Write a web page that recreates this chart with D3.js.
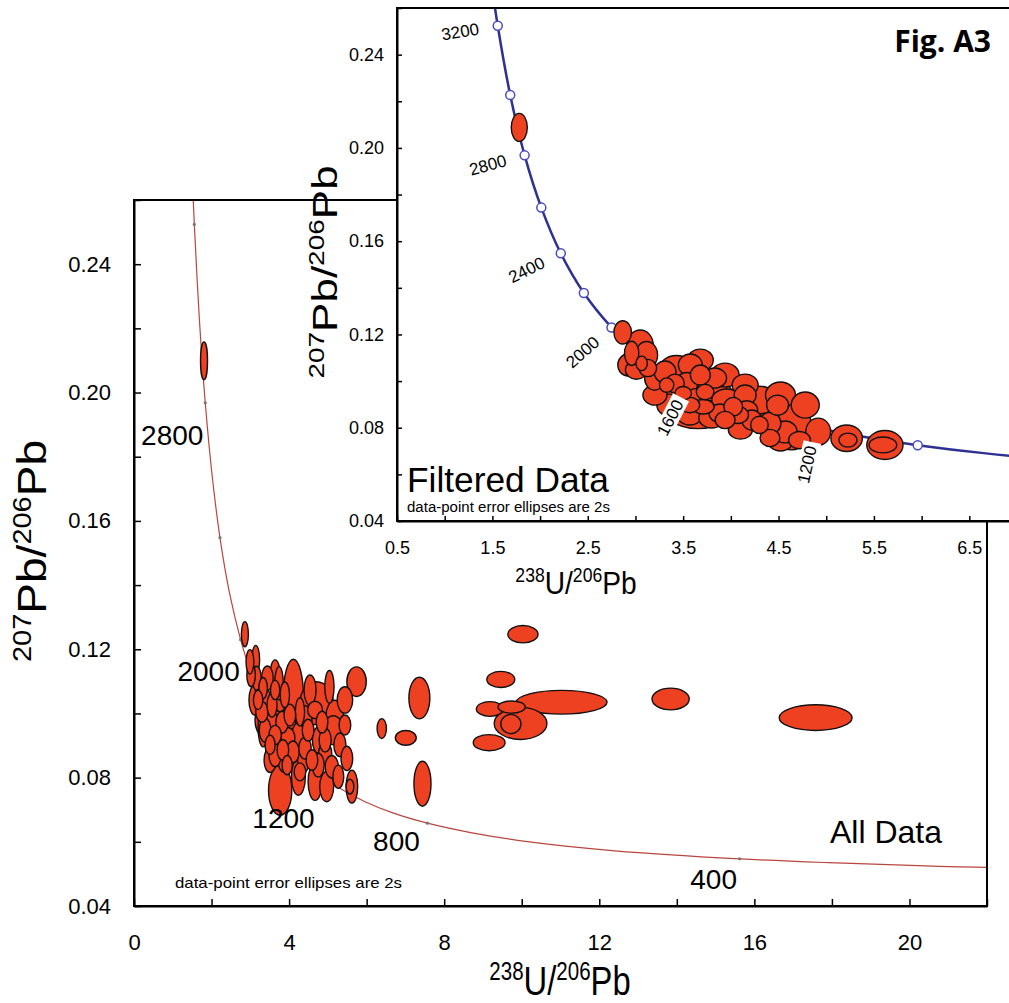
<!DOCTYPE html>
<html>
<head>
<meta charset="utf-8">
<script src="https://cdn.jsdelivr.net/npm/d3@7"></script>
<style>
  body { margin: 0; background: #fff; }
  svg { display: block; font-family: "Liberation Sans", Arial, sans-serif; }
</style>
</head>
<body>
<svg id="chart" width="1009" height="1003"></svg>
<script>
// concordia nodes: age (Ma), 238U/206Pb, 207Pb/206Pb
const concAges = [250, 300, 350, 400, 500, 600, 700, 800, 900, 1000, 1100, 1200, 1300, 1400, 1500,
  1600, 1700, 1800, 1900, 2000, 2200, 2400, 2600, 2800, 3000, 3200, 3300, 3400];
const concX = [25.29, 20.99, 17.92, 15.62, 12.40, 10.25, 8.718, 7.568, 6.674, 5.959, 5.375, 4.888, 4.476, 4.123, 3.817,
  3.550, 3.314, 3.105, 2.917, 2.749, 2.459, 2.217, 2.013, 1.838, 1.687, 1.556, 1.496, 1.440];
const concY = [0.0512, 0.0523, 0.0535, 0.0547, 0.0572, 0.0599, 0.0628, 0.0658, 0.0690, 0.0725, 0.0762, 0.0801, 0.0843, 0.0888, 0.0936,
  0.0987, 0.1042, 0.1100, 0.1163, 0.1230, 0.1378, 0.1548, 0.1744, 0.1968, 0.2227, 0.2524, 0.2690, 0.2867];

const mainAgeMarks = [400, 800, 1200, 1600, 2000, 2400, 2800, 3200];
const mainAgeLabels = [2800, 2000, 1200, 800, 400];
const insetAgeMarks = [1000, 1200, 1400, 1600, 1800, 2000, 2200, 2400, 2600, 2800, 3000, 3200];
const insetAgeLabels = [3200, 2800, 2400, 2000, 1600, 1200];

const mainXTicks = [0, 2, 4, 6, 8, 10, 12, 14, 16, 18, 20, 22];
const mainXLabels = [0, 4, 8, 12, 16, 20];
const mainYTicks = [0.04, 0.06, 0.08, 0.10, 0.12, 0.14, 0.16, 0.18, 0.20, 0.22, 0.24, 0.26];
const mainYLabels = [0.04, 0.08, 0.12, 0.16, 0.20, 0.24];
const insetXTicks = [0.5, 1, 1.5, 2, 2.5, 3, 3.5, 4, 4.5, 5, 5.5, 6, 6.5, 7];
const insetXLabels = [0.5, 1.5, 2.5, 3.5, 4.5, 5.5, 6.5];
const insetYTicks = mainYTicks;
const insetYLabels = mainYLabels;

// ellipses: [238U/206Pb, 207Pb/206Pb, 2s on x, 2s on y]
const allData = [
  [1.806, 0.2099, 0.09, 0.0059], [2.86, 0.1247, 0.09, 0.0039], [2.99, 0.1161, 0.10, 0.0038],
  [3.14, 0.1167, 0.10, 0.0045], [3.02, 0.1120, 0.11, 0.0037], [3.16, 0.1110, 0.12, 0.0037],
  [3.44, 0.1110, 0.15, 0.0038], [3.25, 0.1073, 0.12, 0.0038], [3.20, 0.1042, 0.12, 0.0030],
  [3.33, 0.1079, 0.11, 0.0033], [3.64, 0.1073, 0.12, 0.0030], [3.89, 0.1058, 0.12, 0.0040],
  [3.74, 0.1094, 0.11, 0.0052], [4.11, 0.1052, 0.26, 0.0117], [4.71, 0.1032, 0.43, 0.0067],
  [5.04, 0.1083, 0.12, 0.0051], [5.74, 0.1099, 0.25, 0.0046], [5.18, 0.0990, 0.23, 0.0051],
  [5.14, 0.0948, 0.26, 0.0045], [4.67, 0.1011, 0.19, 0.0027], [5.49, 0.0860, 0.15, 0.0038],
  [5.62, 0.0772, 0.15, 0.0051], [5.57, 0.0772, 0.10, 0.0023], [5.27, 0.0803, 0.14, 0.0036],
  [4.97, 0.0772, 0.18, 0.0047], [4.67, 0.0787, 0.18, 0.0058], [4.24, 0.0803, 0.18, 0.0058],
  [3.77, 0.0761, 0.30, 0.0078], [4.37, 0.0855, 0.15, 0.0040], [4.75, 0.0917, 0.15, 0.0040],
  [4.93, 0.0876, 0.17, 0.0035], [5.10, 0.0834, 0.17, 0.0035], [3.38, 0.1042, 0.16, 0.0034],
  [3.56, 0.1026, 0.13, 0.0037], [3.77, 0.1042, 0.16, 0.0037], [3.30, 0.1005, 0.16, 0.0032],
  [3.51, 0.0980, 0.18, 0.0034], [3.82, 0.0973, 0.16, 0.0034], [4.02, 0.0995, 0.15, 0.0034],
  [4.28, 0.1005, 0.12, 0.0044], [3.64, 0.0933, 0.16, 0.0030], [3.38, 0.0948, 0.15, 0.0037],
  [3.97, 0.0924, 0.18, 0.0032], [4.23, 0.0933, 0.16, 0.0037], [4.49, 0.0948, 0.15, 0.0034],
  [3.84, 0.0886, 0.15, 0.0032], [4.10, 0.0880, 0.16, 0.0034], [4.41, 0.0892, 0.16, 0.0034],
  [3.64, 0.0871, 0.16, 0.0037], [4.59, 0.0855, 0.15, 0.0032], [3.95, 0.0839, 0.13, 0.0030],
  [4.28, 0.0818, 0.15, 0.0028], [3.51, 0.0902, 0.13, 0.0030], [3.33, 0.0958, 0.13, 0.0062],
  [4.85, 0.0973, 0.15, 0.0034], [5.44, 0.0964, 0.15, 0.0031], [3.12, 0.1042, 0.155, 0.0047],
  [3.30, 0.0980, 0.18, 0.0047], [3.64, 0.0995, 0.18, 0.0044], [4.02, 0.0948, 0.18, 0.0044],
  [4.41, 0.0980, 0.18, 0.0044], [3.89, 0.0855, 0.18, 0.0039], [4.28, 0.0902, 0.155, 0.0039],
  [3.51, 0.0855, 0.155, 0.0039], [4.75, 0.0839, 0.155, 0.0037], [4.93, 0.0917, 0.155, 0.0037],
  [5.31, 0.0902, 0.155, 0.0037], [5.44, 0.1042, 0.20, 0.0041], [4.54, 0.1073, 0.155, 0.0047],
  [3.64, 0.1120, 0.13, 0.0047], [7.36, 0.1048, 0.27, 0.0065], [6.39, 0.0953, 0.12, 0.0031],
  [7.01, 0.0924, 0.27, 0.0023], [7.44, 0.0781, 0.22, 0.0070], [9.46, 0.1106, 0.36, 0.0025],
  [10.03, 0.1247, 0.39, 0.0027], [11.03, 0.1035, 1.17, 0.0037], [9.18, 0.1014, 0.35, 0.0023],
  [9.74, 0.1020, 0.35, 0.0019], [9.97, 0.0969, 0.68, 0.0050], [9.72, 0.0967, 0.26, 0.0030],
  [9.16, 0.0909, 0.41, 0.0025], [13.84, 0.1045, 0.48, 0.0034], [17.58, 0.0987, 0.94, 0.0040]
];

const filteredData = [
  [1.782, 0.2088, 0.084, 0.0060], [2.866, 0.1209, 0.092, 0.0050], [2.96, 0.1119, 0.075, 0.0052],
  [3.117, 0.1112, 0.115, 0.0058], [3.01, 0.1048, 0.115, 0.0040], [3.065, 0.1076, 0.06, 0.0031],
  [3.43, 0.1048, 0.185, 0.0062], [3.327, 0.0983, 0.075, 0.0031], [3.414, 0.0990, 0.098, 0.0040],
  [3.537, 0.0990, 0.115, 0.0047], [3.50, 0.0948, 0.087, 0.0029], [3.64, 0.0933, 0.115, 0.0035],
  [3.80, 0.0969, 0.156, 0.0054], [3.71, 0.0890, 0.115, 0.0031], [3.956, 0.0919, 0.156, 0.0047],
  [4.025, 0.0890, 0.098, 0.0040], [3.886, 0.0862, 0.115, 0.0040], [4.166, 0.0876, 0.115, 0.0040],
  [4.34, 0.0876, 0.156, 0.0070], [4.305, 0.0919, 0.17, 0.0059], [4.41, 0.0819, 0.115, 0.0047],
  [4.637, 0.0820, 0.2, 0.0115], [4.916, 0.0783, 0.13, 0.0058], [5.214, 0.0755, 0.165, 0.0057],
  [5.228, 0.0747, 0.095, 0.0030], [5.615, 0.0726, 0.19, 0.0062], [5.594, 0.0726, 0.145, 0.0034],
  [3.655, 0.0910, 0.40, 0.0114], [3.31, 0.1039, 0.115, 0.0047], [3.575, 0.1069, 0.125, 0.0047],
  [3.68, 0.1026, 0.104, 0.0043], [3.20, 0.1013, 0.104, 0.0052], [3.83, 0.1013, 0.125, 0.0043],
  [4.15, 0.0940, 0.115, 0.0043], [4.07, 0.0855, 0.115, 0.0037], [4.22, 0.0833, 0.104, 0.0043],
  [4.49, 0.0897, 0.115, 0.0043], [4.57, 0.0782, 0.125, 0.0047], [4.72, 0.0747, 0.115, 0.0037],
  [4.41, 0.0756, 0.104, 0.0037], [3.73, 0.0953, 0.092, 0.0033], [3.57, 0.0897, 0.104, 0.0033],
  [3.13, 0.1056, 0.092, 0.0037], [4.30, 0.0812, 0.092, 0.0037], [3.94, 0.0833, 0.104, 0.0037],
  [3.204, 0.0940, 0.126, 0.0043], [3.36, 0.0897, 0.136, 0.0047], [3.57, 0.0855, 0.136, 0.0043],
  [3.80, 0.0842, 0.136, 0.0043], [4.10, 0.0790, 0.126, 0.0039], [3.68, 0.1090, 0.136, 0.0047],
  [3.94, 0.1026, 0.147, 0.0051], [4.15, 0.0983, 0.136, 0.0047], [4.52, 0.0940, 0.157, 0.0056],
  [4.78, 0.0897, 0.147, 0.0056], [4.52, 0.0747, 0.136, 0.0047], [3.05, 0.1155, 0.136, 0.0064],
  [2.92, 0.1069, 0.105, 0.0047]
];

const ellipseFill = '#ee4122';
const fmt2 = d3.format('.2f');

const svg = d3.select('#chart');
const conc = concAges.map((a, i) => ({ age: a, x: concX[i], y: concY[i] }));
const byAge = a => conc.find(d => d.age === a);

// scales
const xMain = d3.scaleLinear().domain([0, 22]).range([134, 987]);
const yMain = d3.scaleLinear().domain([0.04, 0.26]).range([906, 200]);
const xIns = d3.scaleLinear().domain([0.5, 7]).range([397, 1017]);
const yIns = d3.scaleLinear().domain([0.04, 0.26]).range([521, 8]);

const defs = svg.append('defs');
defs.append('clipPath').attr('id', 'clipMain').append('rect')
  .attr('x', 134).attr('y', 200).attr('width', 853).attr('height', 706);
defs.append('clipPath').attr('id', 'clipIns').append('rect')
  .attr('x', 397).attr('y', 8).attr('width', 620).attr('height', 513);

function drawEllipses(g, data, x, y) {
  const sorted = data.slice().sort((a, b) => b[2] * b[3] - a[2] * a[3]);
  g.selectAll('ellipse')
    .data(sorted)
    .join('ellipse')
      .attr('cx', d => x(d[0]))
      .attr('cy', d => y(d[1]))
      .attr('rx', d => x(d[0] + d[2]) - x(d[0]))
      .attr('ry', d => y(d[1]) - y(d[1] + d[3]))
      .attr('fill', ellipseFill)
      .attr('stroke', '#111')
      .attr('stroke-width', 1.4);
}

function styleAxis(g, fontSize) {
  g.attr('font-family', '"Liberation Sans", Arial, sans-serif').attr('font-size', fontSize);
  g.select('.domain').attr('stroke-width', 2);
  g.selectAll('.tick line').attr('stroke-width', 1.5);
}

function ratioTitle(text, supA, baseA, supB, baseB, size, supSize) {
  const up = size * 0.38;
  text.append('tspan').attr('font-size', supSize).attr('dy', -up).text(supA);
  text.append('tspan').attr('font-size', size).attr('dy', up).text(baseA);
  text.append('tspan').attr('font-size', supSize).attr('dy', -up).text(supB);
  text.append('tspan').attr('font-size', size).attr('dy', up).text(baseB);
}

// ---------- main plot (all data) ----------
const gMain = svg.append('g');
const mainPlot = gMain.append('g').attr('clip-path', 'url(#clipMain)');

const lineMain = d3.line()
  .x(d => xMain(d.x))
  .y(d => yMain(d.y))
  .curve(d3.curveCatmullRom.alpha(0.5));

mainPlot.append('path')
  .datum(conc)
  .attr('d', lineMain)
  .attr('fill', 'none')
  .attr('stroke', '#b8463f')
  .attr('stroke-width', 1.2);

mainPlot.selectAll('.agemark')
  .data(mainAgeMarks.map(byAge))
  .join('circle')
    .attr('class', 'agemark')
    .attr('cx', d => xMain(d.x))
    .attr('cy', d => yMain(d.y))
    .attr('r', 1.6)
    .attr('fill', '#777');

drawEllipses(mainPlot.append('g'), allData, xMain, yMain);

const mainLabelOffset = { 2800: [-33, 33], 2000: [-32, 32], 1200: [-40, 41], 800: [-31, 18], 400: [-26, 21] };
gMain.selectAll('.agelabel')
  .data(mainAgeLabels.map(byAge))
  .join('text')
    .attr('class', 'agelabel')
    .attr('x', d => xMain(d.x) + mainLabelOffset[d.age][0])
    .attr('y', d => yMain(d.y) + mainLabelOffset[d.age][1])
    .attr('text-anchor', 'middle')
    .attr('dominant-baseline', 'central')
    .attr('font-size', 28)
    .text(d => d.age);

gMain.append('text')
  .attr('x', 886).attr('y', 843)
  .attr('text-anchor', 'middle')
  .attr('font-size', 32)
  .text('All Data');

gMain.append('text')
  .attr('x', 175).attr('y', 888)
  .attr('font-size', 15)
  .attr('textLength', 227)
  .attr('lengthAdjust', 'spacingAndGlyphs')
  .text('data-point error ellipses are 2s');

gMain.append('g')
  .attr('transform', 'translate(134,0)')
  .call(d3.axisLeft(yMain).tickValues(mainYTicks).tickSizeInner(-7).tickSizeOuter(0).tickPadding(23)
    .tickFormat(d => mainYLabels.includes(d) ? fmt2(d) : ''))
  .call(g => styleAxis(g, 22));

gMain.append('g')
  .attr('transform', 'translate(0,906)')
  .call(d3.axisBottom(xMain).tickValues(mainXTicks).tickSizeInner(-7).tickSizeOuter(0).tickPadding(28)
    .tickFormat(d => mainXLabels.includes(d) ? d : ''))
  .call(g => styleAxis(g, 22));

gMain.append('rect')
  .attr('x', 134).attr('y', 200).attr('width', 853).attr('height', 706)
  .attr('fill', 'none').attr('stroke', '#000').attr('stroke-width', 2);

const mainXTitle = gMain.append('text')
  .attr('transform', 'translate(560,995) scale(0.82,1)')
  .attr('text-anchor', 'middle');
ratioTitle(mainXTitle, '238', 'U/', '206', 'Pb', 40, 25);

const mainYTitle = gMain.append('text')
  .attr('transform', 'translate(46,551) scale(0.88,1) rotate(-90)')
  .attr('text-anchor', 'middle');
ratioTitle(mainYTitle, '207', 'Pb/', '206', 'Pb', 46, 29);

// ---------- inset (filtered data) ----------
const gIns = svg.append('g');
gIns.append('rect')
  .attr('x', 397).attr('y', 8).attr('width', 640).attr('height', 513)
  .attr('fill', '#fff');

const insPlot = gIns.append('g').attr('clip-path', 'url(#clipIns)');

const lineIns = d3.line()
  .x(d => xIns(d.x))
  .y(d => yIns(d.y))
  .curve(d3.curveCatmullRom.alpha(0.5));

insPlot.append('path')
  .datum(conc)
  .attr('d', lineIns)
  .attr('fill', 'none')
  .attr('stroke', '#2e3192')
  .attr('stroke-width', 2.5);

insPlot.selectAll('.agemark')
  .data(insetAgeMarks.map(byAge))
  .join('circle')
    .attr('class', 'agemark')
    .attr('cx', d => xIns(d.x))
    .attr('cy', d => yIns(d.y))
    .attr('r', 4.5)
    .attr('fill', '#fff')
    .attr('stroke', '#4a4ac4')
    .attr('stroke-width', 1.5);

drawEllipses(insPlot.append('g'), filteredData, xIns, yIns);

// age labels sit on the normal to the curve, reading toward it
function normalAt(age) {
  const i = concAges.indexOf(age);
  const p0 = conc[i - 1], p1 = conc[i + 1];
  const tx = xIns(p1.x) - xIns(p0.x), ty = yIns(p1.y) - yIns(p0.y);
  const len = Math.hypot(tx, ty);
  return [ty / len, -tx / len];
}

const labDist = 38;
const insLabels = insPlot.selectAll('.agelabel')
  .data(insetAgeLabels.map(byAge))
  .join('g')
    .attr('class', 'agelabel')
    .attr('transform', d => {
      const [nx, ny] = normalAt(d.age);
      const cx = xIns(d.x) + nx * labDist;
      const cy = yIns(d.y) + ny * labDist;
      const ang = Math.atan2(-ny, -nx) * 180 / Math.PI;
      return `translate(${cx},${cy}) rotate(${ang})`;
    });

insLabels.append('rect')
  .attr('x', -23).attr('y', -9).attr('width', 46).attr('height', 18)
  .attr('fill', '#fff');

insLabels.append('text')
  .attr('text-anchor', 'middle')
  .attr('dominant-baseline', 'central')
  .attr('font-size', 17)
  .text(d => d.age);

gIns.append('text')
  .attr('x', 407).attr('y', 492)
  .attr('font-size', 35)
  .attr('textLength', 202)
  .attr('lengthAdjust', 'spacingAndGlyphs')
  .text('Filtered Data');

gIns.append('text')
  .attr('x', 407).attr('y', 512)
  .attr('font-size', 14)
  .attr('textLength', 203)
  .attr('lengthAdjust', 'spacingAndGlyphs')
  .text('data-point error ellipses are 2s');

gIns.append('text')
  .attr('x', 991).attr('y', 52)
  .attr('text-anchor', 'end')
  .attr('font-family', '"Open Sans", sans-serif')
  .attr('font-weight', 'bold')
  .attr('font-size', 30)
  .text('Fig. A3');

gIns.append('g')
  .attr('transform', 'translate(397,0)')
  .call(d3.axisLeft(yIns).tickValues(insetYTicks).tickSizeInner(-5).tickSizeOuter(0).tickPadding(13)
    .tickFormat(d => insetYLabels.includes(d) ? fmt2(d) : ''))
  .call(g => styleAxis(g, 18));

gIns.append('g')
  .attr('transform', 'translate(0,521)')
  .call(d3.axisBottom(xIns).tickValues(insetXTicks).tickSizeInner(-5).tickSizeOuter(0).tickPadding(20)
    .tickFormat(d => insetXLabels.includes(d) ? d : ''))
  .call(g => styleAxis(g, 18));

gIns.append('rect')
  .attr('x', 397).attr('y', 8).attr('width', 640).attr('height', 513)
  .attr('fill', 'none').attr('stroke', '#000').attr('stroke-width', 2);

const insXTitle = gIns.append('text')
  .attr('transform', 'translate(576,594) scale(0.88,1)')
  .attr('text-anchor', 'middle');
ratioTitle(insXTitle, '238', 'U/', '206', 'Pb', 32, 20);

const insYTitle = gIns.append('text')
  .attr('transform', 'translate(337,272) scale(0.8,1) rotate(-90)')
  .attr('text-anchor', 'middle');
ratioTitle(insYTitle, '207', 'Pb/', '206', 'Pb', 44, 28);
</script>
</body>
</html>
